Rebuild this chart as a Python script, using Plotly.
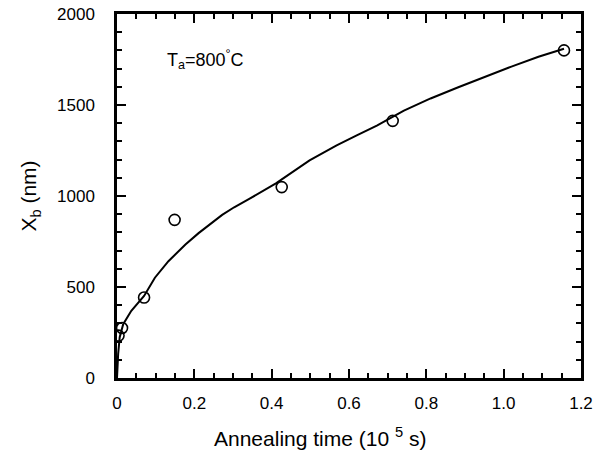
import plotly.graph_objects as go

# Measured data points (annealing time in 1e5 s, X_b in nm)
meas_time = [0.004, 0.013, 0.070, 0.149, 0.426, 0.713, 1.156]
meas_xb = [233, 275, 442, 869, 1049, 1413, 1800]

# Fitted curve
fit_time = [0.0, 0.001, 0.003, 0.007, 0.016, 0.037, 0.070, 0.098, 0.133, 0.177,
            0.211, 0.272, 0.303, 0.342, 0.411, 0.498, 0.568, 0.620, 0.672, 0.742,
            0.811, 0.881, 0.968, 1.020, 1.090, 1.156]
fit_xb = [0, 96, 133, 224, 296, 369, 451, 551, 642, 733,
          796, 896, 938, 984, 1069, 1196, 1278, 1333, 1387, 1469,
          1536, 1596, 1669, 1711, 1765, 1809]

x_ticks = [0, 0.2, 0.4, 0.6, 0.8, 1.0, 1.2]
x_tick_labels = ["0", "0.2", "0.4", "0.6", "0.8", "1.0", "1.2"]
y_ticks = [0, 500, 1000, 1500, 2000]

FONT = "Liberation Sans, Arial, sans-serif"

fig = go.Figure()
fig.add_trace(go.Scatter(x=fit_time, y=fit_xb, mode="lines",
                         line=dict(color="black", width=2), showlegend=False))
fig.add_trace(go.Scatter(x=meas_time, y=meas_xb, mode="markers",
                         marker=dict(symbol="circle-open", size=11, color="black",
                                     line=dict(width=1.6, color="black")),
                         showlegend=False))

fig.add_annotation(x=0.125, y=1750, xref="x", yref="y", xanchor="left",
                   text="T<sub>a</sub>=800<sup>°</sup>C", showarrow=False,
                   font=dict(family=FONT, size=18, color="black"))

# x-axis title (placed slightly left of centre, as in the original)
fig.add_annotation(x=0.4375, y=0, xref="paper", yref="paper", xanchor="center",
                   yanchor="middle", yshift=-59,
                   text="Annealing time (10 <sup>5</sup> s)", showarrow=False,
                   font=dict(family=FONT, size=21, color="black"))

axis_common = dict(showgrid=False, zeroline=False, showline=True, linecolor="black",
                   linewidth=2.5, mirror="ticks", ticks="inside", ticklen=9,
                   tickwidth=2, tickcolor="black",
                   tickfont=dict(family=FONT, size=17, color="black"))

fig.update_xaxes(range=[0, 1.2], tickvals=x_ticks, ticktext=x_tick_labels,
                 ticklabelstandoff=8,
                 minor=dict(ticks="inside", dtick=0.05, tick0=0, ticklen=5,
                            tickwidth=1.5, tickcolor="black"),
                 **axis_common)
fig.update_yaxes(range=[0, 2000], tickvals=y_ticks,
                 ticklabelstandoff=16,
                 minor=dict(ticks="inside", dtick=100, tick0=0, ticklen=5,
                            tickwidth=1.5, tickcolor="black"),
                 title=dict(text="X<sub>b</sub> (nm)", standoff=15,
                            font=dict(family=FONT, size=21, color="black")),
                 **axis_common)

fig.update_layout(width=598, height=453, plot_bgcolor="white", paper_bgcolor="white",
                  margin=dict(l=117, r=17, t=14, b=75, autoexpand=False),
                  font=dict(family=FONT, color="black"))

fig.write_html("out.html", config={"displayModeBar": False},
               post_script="document.body.style.margin='0';")
